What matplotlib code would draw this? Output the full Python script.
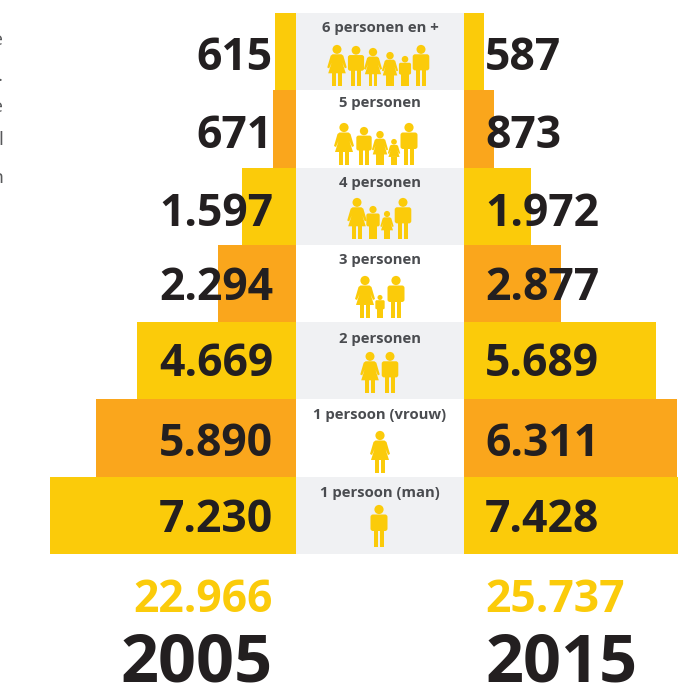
import matplotlib
matplotlib.use('Agg')
import matplotlib.pyplot as plt
from matplotlib.patches import Circle, Polygon, FancyBboxPatch, Rectangle

W, H = 678, 689

labels = ['6 personen en +', '5 personen', '4 personen', '3 personen',
          '2 personen', '1 persoon (vrouw)', '1 persoon (man)']
v2005 = [615, 671, 1597, 2294, 4669, 5890, 7230]
v2015 = [587, 873, 1972, 2877, 5689, 6311, 7428]
t2005 = ['615', '671', '1.597', '2.294', '4.669', '5.890', '7.230']
t2015 = ['587', '873', '1.972', '2.877', '5.689', '6.311', '7.428']
totals = ['22.966', '25.737']
years = ['2005', '2015']
# w = vrouw, m = man; per rij: soort, midden x, hoogte
family = [
    [('w', 337, 41), ('m', 356, 40), ('w', 373, 38), ('w', 390, 34), ('m', 405, 30), ('m', 421, 41)],
    [('w', 344, 42), ('m', 364, 38), ('w', 380, 34), ('w', 394, 26), ('m', 409, 42)],
    [('w', 357, 41), ('m', 373, 33), ('w', 387, 28), ('m', 403, 41)],
    [('w', 365, 42), ('m', 380, 23), ('m', 396, 42)],
    [('w', 370, 41), ('m', 390, 41)],
    [('w', 380, 42)],
    [('m', 379, 42)],
]
feet = [86, 165, 239, 318, 393, 473, 547]
label_y = [28, 103, 183, 260, 339, 415, 493]
num_y = [59, 136, 214, 288, 365, 444, 521]

YEL = '#fbcb0a'
ORA = '#faa61c'
GRY = '#f0f1f3'
DARK = '#231f20'
TXT = '#4a4c50'
FONT = 'Open Sans'

top, row_h = 13, 541 / 7.0
ylim = ((H - top) / row_h - 0.5, -top / row_h - 0.5)
cols = [YEL if i % 2 == 0 else ORA for i in range(7)]
rows = list(range(7))

fig = plt.figure(figsize=(W / 100, H / 100), dpi=100)

axl = fig.add_axes([0, 0, 296 / W, 1])
axl.barh(rows, v2005, height=1, color=cols)
axl.set_xlim(296 / 0.034, 0)
axl.set_ylim(*ylim)
axl.axis('off')

axr = fig.add_axes([464 / W, 0, 214 / W, 1])
axr.barh(rows, v2015, height=1, color=cols)
axr.set_xlim(0, 214 / 0.0338)
axr.set_ylim(*ylim)
axr.axis('off')

ax = fig.add_axes([0, 0, 1, 1])
ax.set_xlim(0, W)
ax.set_ylim(H, 0)
ax.axis('off')
ax.patch.set_alpha(0)


def woman(x, foot, h):
    s = h / 42.0
    ax.add_patch(Circle((x, foot - 37.5 * s), 4.6 * s, color=YEL, lw=0))
    ax.add_patch(Polygon([(x - 4.5 * s, foot - 32.5 * s), (x + 4.5 * s, foot - 32.5 * s),
                          (x + 6.5 * s, foot - 31 * s), (x + 10 * s, foot - 19 * s),
                          (x + 8 * s, foot - 18 * s), (x + 5.5 * s, foot - 24 * s),
                          (x + 9 * s, foot - 13 * s), (x - 9 * s, foot - 13 * s),
                          (x - 5.5 * s, foot - 24 * s), (x - 8 * s, foot - 18 * s),
                          (x - 10 * s, foot - 19 * s), (x - 6.5 * s, foot - 31 * s)],
                         closed=True, color=YEL, lw=0))
    for dx in (-4.9, 0.6):
        ax.add_patch(Rectangle((x + dx * s, foot - 13 * s), 4.3 * s, 13 * s, color=YEL, lw=0))


def man(x, foot, h):
    s = h / 42.0
    ax.add_patch(Circle((x, foot - 37.5 * s), 4.6 * s, color=YEL, lw=0))
    ax.add_patch(FancyBboxPatch((x - 6.5 * s, foot - 30.5 * s), 13 * s, 12.5 * s,
                                boxstyle='round,pad=%f,rounding_size=%f' % (2 * s, 2.5 * s),
                                color=YEL, lw=0))
    ax.add_patch(Rectangle((x - 5 * s, foot - 18 * s), 4.4 * s, 18 * s, color=YEL, lw=0))
    ax.add_patch(Rectangle((x + 0.6 * s, foot - 18 * s), 4.4 * s, 18 * s, color=YEL, lw=0))


for i in rows:
    y0 = top + i * row_h
    ax.add_patch(Rectangle((296, y0), 168, row_h, color=GRY if i % 2 == 0 else 'white', lw=0))
    ax.text(380, label_y[i], labels[i], ha='center', va='center', fontsize=10.7,
            fontweight='bold', color=TXT, family=FONT)
    for kind, x, h in family[i]:
        if kind == 'w':
            woman(x, feet[i], h)
        else:
            man(x, feet[i], h)
    ax.text(273, num_y[i], t2005[i], ha='right', va='center', fontsize=32,
            fontweight='bold', color=DARK, family=FONT)
    ax.text(485, num_y[i], t2015[i], ha='left', va='center', fontsize=32,
            fontweight='bold', color=DARK, family=FONT)

ax.text(273, 601, totals[0], ha='right', va='center', fontsize=32, fontweight='bold', color=YEL, family=FONT)
ax.text(485, 601, totals[1], ha='left', va='center', fontsize=32, fontweight='bold', color=YEL, family=FONT)
ax.text(273, 664, years[0], ha='right', va='center', fontsize=48, fontweight='bold', color=DARK, family=FONT)
ax.text(485, 664, years[1], ha='left', va='center', fontsize=48, fontweight='bold', color=DARK, family=FONT)

# afgesneden tekst aan de linkerrand
for s, y in [('e', 40), ('.', 76), ('e', 107), ('l', 140), ('n', 178)]:
    ax.text(3, y, s, ha='right', va='center', fontsize=14, color='#58595b', family=FONT)

fig.savefig('out.png', dpi=100)
